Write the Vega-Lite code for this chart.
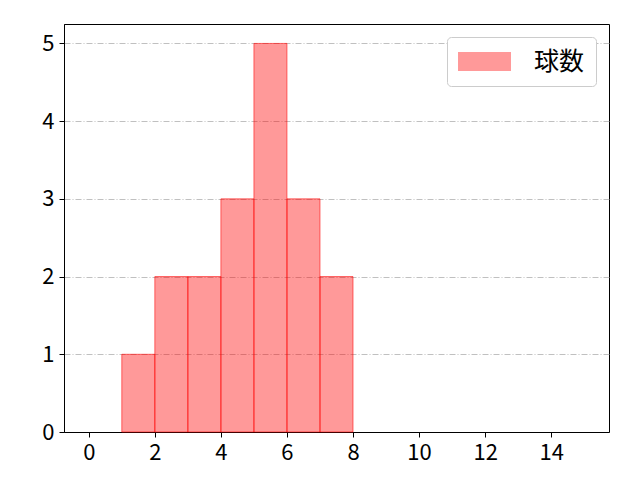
{
  "$schema": "https://vega.github.io/schema/vega-lite/v6.json",
  "width": 545,
  "height": 408,
  "autosize": "none",
  "padding": {"left": 64, "top": 24, "right": 31, "bottom": 48},
  "background": "#FFFFFF",
  "data": {
    "values": [
      {"start": 1, "end": 2, "count": 1, "series": "球数"},
      {"start": 2, "end": 3, "count": 2, "series": "球数"},
      {"start": 3, "end": 4, "count": 2, "series": "球数"},
      {"start": 4, "end": 5, "count": 3, "series": "球数"},
      {"start": 5, "end": 6, "count": 5, "series": "球数"},
      {"start": 6, "end": 7, "count": 3, "series": "球数"},
      {"start": 7, "end": 8, "count": 2, "series": "球数"}
    ]
  },
  "mark": {
    "type": "bar",
    "fillOpacity": 0.4,
    "stroke": "#FF0000",
    "strokeOpacity": 0.55,
    "strokeWidth": 1
  },
  "encoding": {
    "x": {
      "field": "start",
      "type": "quantitative",
      "scale": {"domain": [-0.75, 15.75], "nice": false, "zero": false},
      "axis": {"values": [0, 2, 4, 6, 8, 10, 12, 14], "title": null, "grid": false, "format": "d"}
    },
    "x2": {"field": "end"},
    "y": {
      "field": "count",
      "type": "quantitative",
      "scale": {"domain": [0, 5.25], "nice": false},
      "axis": {
        "values": [0, 1, 2, 3, 4, 5],
        "title": null,
        "grid": true,
        "gridColor": "#B0B0B0",
        "gridDash": [6, 2, 1, 2],
        "gridWidth": 0.8,
        "format": "d"
      }
    },
    "y2": {"datum": 0},
    "color": {
      "field": "series",
      "type": "nominal",
      "scale": {"range": ["#FF0000"]},
      "legend": {
        "title": null,
        "orient": "top-right",
        "offset": 13,
        "symbolType": "M-2,-0.72H2V0.72H-2Z",
        "symbolSize": 702,
        "symbolOffset": 13,
        "symbolOpacity": 0.4,
        "symbolStrokeWidth": 0,
        "labelFontSize": 25,
        "labelFont": "Noto Sans CJK JP",
        "labelColor": "#000000",
        "fillColor": "#FFFFFF",
        "strokeColor": "#CCCCCC",
        "cornerRadius": 4,
        "padding": 11,
        "labelOffset": 36
      }
    }
  },
  "config": {
    "font": "Noto Sans CJK JP",
    "view": {"stroke": "#000000", "strokeWidth": 1},
    "axis": {
      "labelFont": "Noto Sans CJK JP",
      "labelFontSize": 22,
      "labelColor": "#000000",
      "domainColor": "#000000",
      "tickColor": "#000000",
      "tickSize": 5,
      "labelPadding": 5
    }
  }
}
